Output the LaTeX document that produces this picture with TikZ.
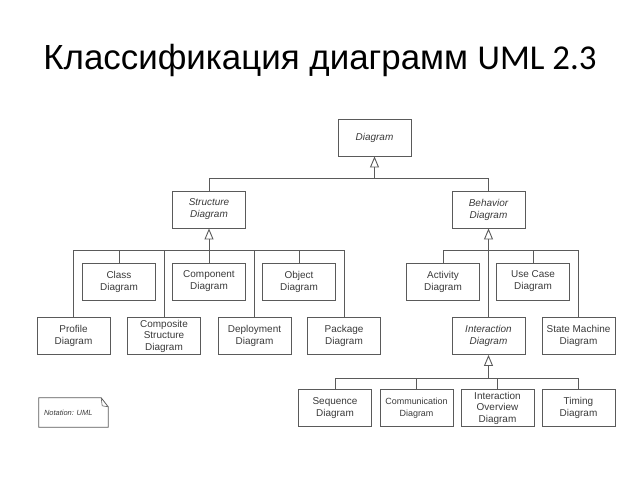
\documentclass[tikz,border=0pt]{standalone}
\usepackage{fontspec}
\setmainfont{Liberation Sans}
\newfontfamily\calibri{Carlito}
\usetikzlibrary{arrows.meta, positioning, calc}
\definecolor{linegray}{HTML}{5A5A5A}
\definecolor{textgray}{HTML}{3A3A3A}
\tikzset{
  umlbox/.style={draw=linegray, line width=0.9bp, minimum width=73bp, minimum height=37bp,
    inner sep=0pt, align=center, text=textgray, font=\fontsize{10}{12}\selectfont},
  abstractbox/.style={umlbox, font=\fontsize{10}{12}\selectfont\itshape},
  link/.style={draw=linegray, line width=0.9bp},
  inherit/.style={link, -{Triangle[open, width=9bp, length=11bp]}}
}
\begin{document}
\begin{tikzpicture}[x=1bp, y=-1bp]
  \useasboundingbox (0,0) rectangle (640,480);

  % Title
  \node[anchor=base, inner sep=0pt, font=\fontsize{35}{40}\selectfont] (title) at (320,70)
    {Классификация диаграмм {\calibri\fontsize{35}{40}\selectfont UML 2.3}};

  % Top levels
  \node[abstractbox] (diagram) at (374.5,137.5) {Diagram};
  \node[abstractbox] (struct) at (209,209.5) {Structure\\Diagram};
  \node[abstractbox] (behav) at (488.5,209.5) {Behavior\\Diagram};

  % Structure diagrams
  \node[umlbox] (class) at (119,281.5) {Class\\Diagram};
  \node[umlbox] (component) at (209,281.5) {Component\\Diagram};
  \node[umlbox] (object) at (299,281.5) {Object\\Diagram};
  \node[umlbox] (profile) at (73.5,336) {Profile\\Diagram};
  \node[umlbox, font=\fontsize{10}{11.5}\selectfont] (composite) at (164,336) {Composite\\Structure\\Diagram};
  \node[umlbox] (deployment) at (254.5,336) {Deployment\\Diagram};
  \node[umlbox] (package) at (344,336) {Package\\Diagram};

  % Behavior diagrams
  \node[umlbox] (activity) at (443,281.5) {Activity\\Diagram};
  \node[umlbox] (usecase) at (533,281.5) {Use Case\\Diagram};
  \node[abstractbox] (interaction) at (488.5,336) {Interaction\\Diagram};
  \node[umlbox] (statemachine) at (578.5,336) {State Machine\\Diagram};

  % Interaction diagrams
  \node[umlbox] (sequence) at (335,408) {Sequence\\Diagram};
  \node[umlbox, font=\fontsize{9}{12}\selectfont] (communication) at (416.5,408) {Communication\\Diagram};
  \node[umlbox, font=\fontsize{10}{11.5}\selectfont] (overview) at (497.5,408) {Interaction\\Overview\\Diagram};
  \node[umlbox] (timing) at (578.5,408) {Timing\\Diagram};

  % Generalization buses
  \coordinate (j0) at ($(diagram.south)+(0,22)$);
  \draw[link] (struct.north) |- (j0) -| (behav.north);
  \draw[inherit] (j0) -- (diagram.south);

  \coordinate (j1) at ($(struct.south)+(0,22)$);
  \draw[link] (profile.north) |- (j1) -| (package.north);
  \foreach \n in {class, composite, component, deployment, object}
    \draw[link] (\n.north) -- (\n.north |- j1);
  \draw[inherit] (j1) -- (struct.south);

  \coordinate (j2) at ($(behav.south)+(0,22)$);
  \draw[link] (activity.north) |- (j2) -| (statemachine.north);
  \foreach \n in {usecase, interaction}
    \draw[link] (\n.north) -- (\n.north |- j2);
  \draw[inherit] (j2) -- (behav.south);

  \coordinate (j3) at ($(interaction.south)+(0,23)$);
  \draw[link] (sequence.north) |- (j3) -| (timing.north);
  \foreach \n in {communication, overview}
    \draw[link] (\n.north) -- (\n.north |- j3);
  \draw[inherit] (j3) -- (interaction.south);

  % Notation note
  \node[minimum width=69bp, minimum height=29bp, inner sep=0pt] (note) at (73.5,412.5) {};
  \node[anchor=west, inner sep=0pt, text=textgray, font=\fontsize{7.5}{9}\selectfont\itshape]
    (notetext) at ($(note.west)+(5,0)$) {Notation: UML};
  \draw[link, line width=0.8bp] (note.north west) -- ($(note.north east)+(-7,0)$)
    -- ($(note.north east)+(0,9)$) -- (note.south east) -- (note.south west) -- cycle;
  \draw[link, line width=0.6bp] ($(note.north east)+(-7,0)$) -- ($(note.north east)+(-6,8)$)
    -- ($(note.north east)+(0,9)$);
\end{tikzpicture}
\end{document}
